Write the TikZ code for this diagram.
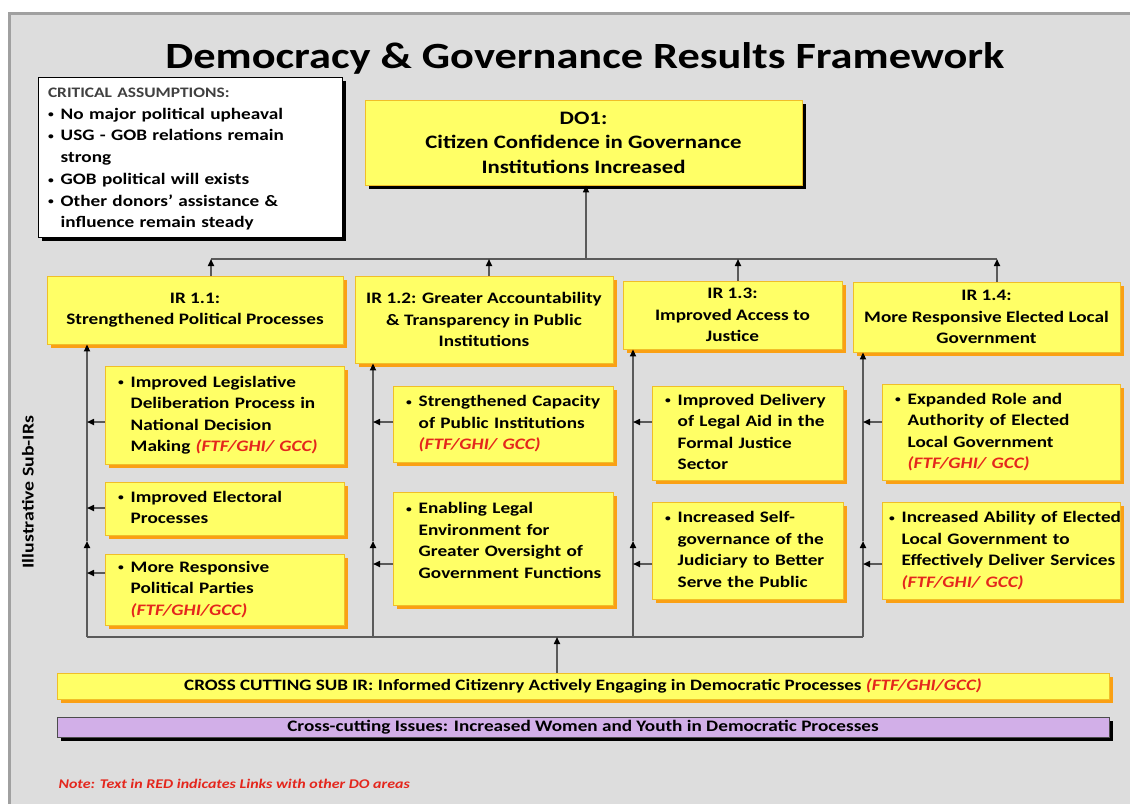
\documentclass[tikz,border=0pt]{standalone}
\usepackage{fontspec}
\setmainfont{Carlito}[FakeStretch=1.2]
\usetikzlibrary{arrows.meta,shadows}
\definecolor{panel}{RGB}{221,221,221}
\definecolor{paneledge}{RGB}{160,160,160}
\definecolor{byellow}{RGB}{255,255,102}
\definecolor{bedge}{RGB}{240,190,40}
\definecolor{borange}{RGB}{250,160,20}
\definecolor{bpurple}{RGB}{210,175,232}
\definecolor{linkred}{RGB}{228,38,28}
\definecolor{linegray}{RGB}{90,90,90}
\newcommand{\rd}[1]{\textcolor{linkred}{\itshape #1}}
\newcommand{\sdot}{\raisebox{1.5pt}{\scalebox{0.6}{\textbullet}}}
\newcommand{\bul}[1]{\begin{tabular}[t]{@{}l@{\hspace{7pt}}l@{}}\sdot&\begin{tabular}[t]{@{}l@{}}#1\end{tabular}\end{tabular}}
\tikzset{
  ybox/.style={draw=bedge, line width=0.8pt, fill=byellow,
    general shadow={fill=borange, shadow xshift=3.5pt, shadow yshift=-3.5pt},
    font=\bfseries\fontsize{16}{21.5}\selectfont, align=center, inner sep=2pt},
  sbox/.style={ybox, align=left, inner xsep=13pt},
  conn/.style={draw=linegray, line width=1.6pt},
  arr/.style={conn, -{Triangle[length=7pt,width=6pt,color=black]}},
}
\begin{document}
\begin{tikzpicture}[x=1pt,y=-1pt]
\useasboundingbox (0,0) rectangle (1130,804);
% panel
\fill[panel] (9,13) rectangle (1130,804);
\draw[paneledge, line width=3pt] (9.5,804) -- (9.5,13.5) -- (1130,13.5);

\node[font=\bfseries\fontsize{37}{44}\selectfont] (title) at (585,58) {Democracy \& Governance Results Framework};

% critical assumptions
\node[draw=black, line width=1pt, fill=white,
  general shadow={fill=black, shadow xshift=3.5pt, shadow yshift=-3.5pt},
  minimum width=304, minimum height=160] (ca) at (190,157) {};
\node[text width=288, align=left, inner sep=0pt,
  font=\bfseries\fontsize{16}{21.5}\selectfont] (catext) at (192,161)
  {{\color{black!75}\fontsize{14.5}{21.5}\selectfont CRITICAL ASSUMPTIONS:}\\
   \bul{No major political upheaval}\\
   \bul{USG - GOB relations remain\\strong}\\
   \bul{GOB political will exists}\\
   \bul{Other donors' assistance \&\\influence remain steady}};

% DO1
\node[ybox, general shadow={fill=black, shadow xshift=3.5pt, shadow yshift=-3.5pt},
  minimum width=437, minimum height=85, font=\bfseries\fontsize{19}{24.5}\selectfont]
  (do) at (583.5,142.5) {DO1:\\Citizen Confidence in Governance\\Institutions Increased};

% IRs
\node[ybox, minimum width=296, minimum height=68] (ir11) at (195,310) {IR 1.1:\\Strengthened Political Processes};
\node[ybox, minimum width=258, minimum height=87] (ir12) at (484,319.5) {IR 1.2: Greater Accountability\\\& Transparency in Public\\Institutions};
\node[ybox, minimum width=219, minimum height=68] (ir13) at (732.5,315) {IR 1.3:\\Improved Access to\\Justice};
\node[ybox, minimum width=267, minimum height=70] (ir14) at (986.5,317) {IR 1.4:\\More Responsive Elected Local\\Government};

% sub IRs
\node[sbox, text width=213, minimum height=98] (sb11) at (224.5,415) {\bul{Improved Legislative\\Deliberation Process in\\National Decision\\Making \rd{(FTF/GHI/ GCC)}}};
\node[sbox, text width=213, minimum height=53] (sb12) at (224.5,508.5) {\bul{Improved Electoral\\Processes}};
\node[sbox, text width=213, minimum height=71] (sb13) at (224.5,589.5) {\bul{More Responsive\\Political Parties\\\rd{(FTF/GHI/GCC)}}};
\node[sbox, text width=194, minimum height=76] (sb21) at (503,424) {\bul{Strengthened Capacity\\of Public Institutions\\\rd{(FTF/GHI/ GCC)}}};
\node[sbox, minimum width=220, minimum height=113] (sb22) at (503,548.5) {};
\node[text width=194, align=left, inner sep=0pt, font=\bfseries\fontsize{16}{21.5}\selectfont] (sb22t) at (503,541.5) {\bul{Enabling Legal\\Environment for\\Greater Oversight of\\Government Functions}};
\node[sbox, text width=165, minimum height=94] (sb31) at (747.5,433) {\bul{Improved Delivery\\of Legal Aid in the\\Formal Justice\\Sector}};
\node[sbox, text width=165, minimum height=97] (sb32) at (747.5,550.5) {\bul{Increased Self-\\governance of the\\Judiciary to Better\\Serve the Public}};
\node[sbox, text width=212, minimum height=96] (sb41) at (1001,432) {\bul{Expanded Role and\\Authority of Elected\\Local Government\\\rd{(FTF/GHI/ GCC)}}};
\node[sbox, text width=224, inner xsep=7pt, minimum height=97] (sb42) at (1001,550.5) {\bul{Increased Ability of Elected\\Local Government to\\Effectively Deliver Services\\\rd{(FTF/GHI/ GCC)}}};

% cross cutting
\node[ybox, minimum width=1052, minimum height=26, font=\bfseries\fontsize{15.9}{18}\selectfont] (cc) at (583,686)
  {CROSS CUTTING SUB IR: Informed Citizenry Actively Engaging in Democratic Processes \rd{(FTF/GHI/GCC)}};
\node[draw=black!70, line width=0.8pt, fill=bpurple,
  general shadow={fill=black, shadow xshift=3.5pt, shadow yshift=-3.5pt},
  minimum width=1052, minimum height=20, inner sep=1pt, font=\bfseries\fontsize{16}{18}\selectfont] (pu) at (583,727)
  {Cross-cutting Issues: Increased Women and Youth in Democratic Processes};

\node[rotate=90, font=\bfseries\fontsize{16.5}{20}\selectfont] (lbl) at (28,492) {Illustrative Sub-IRs};
\node[anchor=west, text=linkred, font=\bfseries\itshape\fontsize{13.3}{15}\selectfont] (note) at (55,784) {Note: Text in RED indicates Links with other DO areas};

% top connectors
\coordinate (hub) at (586,259);
\coordinate (h1) at (211,259);
\coordinate (h2) at (489,259);
\coordinate (h3) at (738,259);
\coordinate (h4) at (997,259);
\draw[conn] (h1) -- (h4);
\draw[arr] (hub) -- (hub |- do.south);
\draw[arr] (ir11.north -| h1) -- (h1);
\draw[arr] (ir12.north -| h2) -- (h2);
\draw[arr] (ir13.north -| h3) -- (h3);
\draw[arr] (ir14.north -| h4) -- (h4);

% bottom bus and columns
\coordinate (b1) at (87,637);
\coordinate (b2) at (373,637);
\coordinate (b3) at (633,637);
\coordinate (b4) at (863,637);
\coordinate (bc) at (557,637);
\coordinate (m1) at (87,541);
\coordinate (m2) at (373,541);
\coordinate (m3) at (633,541);
\coordinate (m4) at (863,541);
\draw[conn] (b1) -- (b4);
\draw[arr] (cc.north -| bc) -- (bc);
\draw[arr] (b1) -- (m1); \draw[arr] (m1) -- (m1 |- ir11.south);
\draw[arr] (b2) -- (m2); \draw[arr] (m2) -- (m2 |- ir12.south);
\draw[arr] (b3) -- (m3); \draw[arr] (m3) -- (m3 |- ir13.south);
\draw[arr] (b4) -- (m4); \draw[arr] (m4) -- (m4 |- ir14.south);

% sub arrows
\coordinate (a11) at (87,422);
\coordinate (a12) at (87,508);
\coordinate (a13) at (87,573);
\coordinate (a21) at (373,422);
\coordinate (a22) at (373,564);
\coordinate (a31) at (633,422);
\coordinate (a32) at (633,564);
\coordinate (a41) at (863,422);
\coordinate (a42) at (863,564);
\draw[arr] (sb11.west |- a11) -- (a11);
\draw[arr] (sb12.west |- a12) -- (a12);
\draw[arr] (sb13.west |- a13) -- (a13);
\draw[arr] (sb21.west |- a21) -- (a21);
\draw[arr] (sb22.west |- a22) -- (a22);
\draw[arr] (sb31.west |- a31) -- (a31);
\draw[arr] (sb32.west |- a32) -- (a32);
\draw[arr] (sb41.west |- a41) -- (a41);
\draw[arr] (sb42.west |- a42) -- (a42);
\end{tikzpicture}
\end{document}
